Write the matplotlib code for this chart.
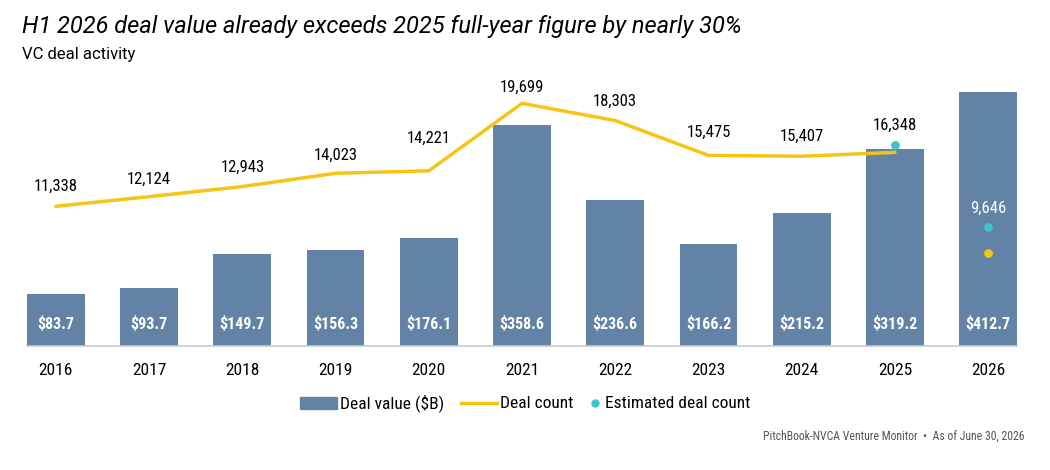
import matplotlib
matplotlib.use("Agg")
import matplotlib.pyplot as plt
from matplotlib import font_manager
from matplotlib.lines import Line2D
from matplotlib.patches import Rectangle

# ---- data ----
years = ["2016", "2017", "2018", "2019", "2020", "2021", "2022", "2023", "2024", "2025", "2026"]
deal_value = [83.7, 93.7, 149.7, 156.3, 176.1, 358.6, 236.6, 166.2, 215.2, 319.2, 412.7]
deal_count = [11338, 12124, 12943, 14023, 14221, 19699, 18303, 15475, 15407, 15720]  # 2016-2025 actual
count_labels = ["11,338", "12,124", "12,943", "14,023", "14,221", "19,699", "18,303",
                "15,475", "15,407", "16,348", "9,646"]
est_years_idx = [9, 10]
est_count = [16348, 9646]
h1_2026_count = 7550

# label offsets above points (pixels) - styling only
label_offsets_px = [20, 17, 19, 18, 32, 16, 19, 23, 20, 19, 19]

# ---- fonts ----
avail = {f.name for f in font_manager.fontManager.ttflist}
cond = None
for cand in ["Roboto Condensed", "Liberation Sans Narrow", "Roboto", "DejaVu Sans"]:
    if cand in avail:
        cond = cand
        break
regular = "Roboto" if "Roboto" in avail else "DejaVu Sans"

BAR = "#6283a5"
YEL = "#f5c414"
TEAL = "#3ec3cc"

W, H = 1050, 470
fig = plt.figure(figsize=(W / 100, H / 100), dpi=100)
ax = fig.add_axes([27 / W, 124 / H, 990 / W, 271 / H])
ax2 = ax.twinx()

x = list(range(len(years)))
ax.bar(x, deal_value, width=0.62, color=BAR, zorder=2)
ax.set_xlim(-0.31, len(years) - 1 + 0.31)
ymax = 440
ax.set_ylim(0, ymax)
ax2.set_ylim(0, ymax * 50)

for i, v in enumerate(deal_value):
    ax.annotate(f"${v:.1f}", (i, 0), xytext=(0, 22 * 0.72), textcoords="offset points",
                ha="center", va="center", color="white", fontsize=11.5, fontweight="bold",
                family=cond, zorder=3)

ax2.plot(x[:len(deal_count)], deal_count, color=YEL, lw=2.5, zorder=3, solid_capstyle="round")
ax2.scatter([10], [h1_2026_count], color=YEL, s=40, zorder=4, linewidths=0)
ax2.scatter(est_years_idx, est_count, color=TEAL, s=40, zorder=4, linewidths=0)

label_y = deal_count[:9] + est_count
for i, (lab, yv) in enumerate(zip(count_labels, label_y)):
    color = "white" if i == 10 else "black"
    ax2.annotate(lab, (i, yv), xytext=(0, label_offsets_px[i] * 0.72), textcoords="offset points",
                 ha="center", va="center", fontsize=12, family=cond,
                 color=color, zorder=5)

for a in (ax, ax2):
    for s in a.spines.values():
        s.set_visible(False)
    a.set_yticks([])
ax.spines["bottom"].set_visible(True)
ax.spines["bottom"].set_color("#c8c8c8")
ax.spines["bottom"].set_linewidth(1.2)
ax.set_xticks(x)
ax.set_xticklabels(years, fontsize=12.5, family=cond)
ax.tick_params(axis="x", length=0, pad=12)

fig.text(22 / W, 1 - 26 / H, "H1 2026 deal value already exceeds 2025 full-year figure by nearly 30%",
         fontsize=17, style="italic", family=regular, va="center", ha="left")
fig.text(22 / W, 1 - 54 / H, "VC deal activity", fontsize=12, family=regular,
         va="center", ha="left")
fig.text(1025 / W, 1 - 436 / H, "PitchBook-NVCA Venture Monitor  \u2022  As of June 30, 2026",
         fontsize=8.5, color="#555555", family=cond, ha="right", va="center")

# ---- manual legend ----
ly = 1 - 403 / H
LF = 12.5
fig.patches.append(Rectangle((300 / W, 1 - 409 / H), 37 / W, 12 / H, transform=fig.transFigure,
                             color=BAR, figure=fig))
fig.text(340 / W, ly, "Deal value ($B)", fontsize=LF, family=cond, ha="left", va="center")
fig.lines.append(Line2D([461 / W, 497 / W], [ly, ly], transform=fig.transFigure, color=YEL,
                        lw=2.5, figure=fig))
fig.text(500 / W, ly, "Deal count", fontsize=LF, family=cond, ha="left", va="center")
fig.lines.append(Line2D([595 / W], [ly], transform=fig.transFigure, color=TEAL, marker="o",
                        markersize=6, markeredgewidth=0, ls="none", figure=fig))
fig.text(605 / W, ly, "Estimated deal count", fontsize=LF, family=cond, ha="left", va="center")

fig.savefig("out.png", dpi=100)
